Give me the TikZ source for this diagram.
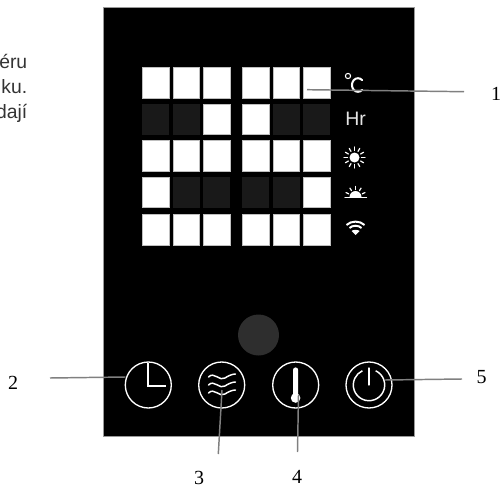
\documentclass[tikz,border=0pt]{standalone}
\usepackage{fontspec}
\setmainfont{Liberation Serif}
\newfontfamily\arialf{Liberation Sans}
\begin{document}
\begin{tikzpicture}[x=0.75pt,y=-0.75pt,
  on/.style={fill=white,draw=white!75!black,line width=0.5pt},
  off/.style={fill=black!90,draw=none},
  ring/.style={draw=white,line width=1pt,circle,minimum size=34.5pt,inner sep=0pt},
  glyph/.style={draw=white,line width=1pt,line cap=round},
  leader/.style={draw=black!50,line width=1.1pt},
  num/.style={font=\fontsize{15pt}{17pt}\selectfont,text=black,inner sep=0pt},
  side/.style={font=\arialf\fontsize{14.5pt}{17pt}\selectfont,text=black!80,inner sep=0pt,anchor=base east}]
\useasboundingbox (0,0) rectangle (500,485);
% clipped side text
\begin{scope}
\clip (0,0) rectangle (103,485);
\node[side] (t1) at (27.5,69) {éru};
\node[side] (t2) at (27.5,93.5) {ku.};
\node[side] (t3) at (27.5,118) {dají};
\end{scope}
% panel
\path[fill=black,draw=black!40,line width=0.5pt] (103,7) rectangle (414.5,436.5);
% cells
\foreach \xa/\xb/\col in {142.3/169/1,173/199.5/2,203.3/230/3,242/269/4,273/299.5/5,303/330/6}{
  \foreach \ya/\yb/\row in {67/98/1,104/134.5/2,140.7/171/3,177/207.7/4,214/245/5}{
    \pgfmathtruncatemacro{\code}{10*\row+\col}
    \def\sty{on}
    \ifnum\code=21 \def\sty{off}\fi
    \ifnum\code=22 \def\sty{off}\fi
    \ifnum\code=25 \def\sty{off}\fi
    \ifnum\code=26 \def\sty{off}\fi
    \ifnum\code=42 \def\sty{off}\fi
    \ifnum\code=43 \def\sty{off}\fi
    \ifnum\code=44 \def\sty{off}\fi
    \ifnum\code=45 \def\sty{off}\fi
    \path[\sty] (\xa,\ya) rectangle (\xb,\yb);
  }
}
% status icons
\draw[white,line width=0.8pt] (348,76) circle (2.6);
\draw[glyph,line width=1.5pt] (362.2,80.2) arc (-45:-315:6 and 6.8);
\node[inner sep=0pt,text=white!90!black,font=\arialf\fontsize{14.6pt}{15pt}\selectfont] (hr) at (355.7,119) {Hr};
% sun
\fill[white] (354.5,157.5) circle (5);
\foreach \a in {0,30,...,330}{\draw[glyph,line width=0.9pt] (354.5,157.5) ++(\a:7) -- ++(\a:3.5);}
% sunrise
\fill[white] (349.5,197) arc (-180:0:6) -- cycle;
\draw[glyph,line width=0.9pt] (345,197.5) -- (366.5,197.5);
\foreach \a in {25,58,90,122,155}{\draw[glyph,line width=0.9pt] (355.5,197) ++(-\a:7.5) -- ++(-\a:3);}
% wifi
\fill[white] (355.5,235) -- (351.5,231) .. controls (353,229.5) and (358,229.5) .. (359.5,231) -- cycle;
\draw[white,line width=1.5pt] (349.5,228) .. controls (352.5,225) and (358.5,225) .. (361.5,228);
\draw[white,line width=1.5pt] (346.5,225) .. controls (351,220.5) and (360,220.5) .. (364.5,225);
% dark circle
\fill[black!82] (258.5,335) circle (20.5);
% buttons
\node[ring] (clock) at (148.3,385) {};
\node[ring] (waves) at (221.7,385) {};
\node[ring] (thermo) at (295.7,385) {};
\node[ring] (power) at (369,385) {};
% clock hands
\draw[glyph,line width=1.5pt,line cap=butt] (148.3,362.5) -- (148.3,386) -- (166,386);
% waves
\foreach \dy in {-8,0,8}{
  \draw[glyph,line width=1.1pt] (208.5,385+\dy) .. controls (214,385+\dy-6) and (220,385+\dy+5) .. (225,385+\dy+1) .. controls (228,385+\dy-1) and (232,385+\dy-3) .. (235.5,385+\dy-3);
}
% thermometer
\fill[white] (293,370) arc (-180:0:2.6) -- (298.2,396) -- (293,396) -- cycle;
\fill[white] (295.6,398) circle (4.8);
% power
\draw[glyph,line width=1pt] (369,368) -- (369,385);
\draw[white,line width=1.1pt] (369,385) ++(-65:15.7) arc (-65:245:15.7);
% leaders
\coordinate (l1a) at (307,89.7);
\coordinate (l1b) at (464,91.7);
\draw[leader] (l1a) -- (l1b);
\node[num] (n1) at (496,94) {1};
\coordinate (l2a) at (50,378);
\coordinate (l2b) at (125.5,377);
\draw[leader] (l2a) -- (l2b);
\node[num] (n2) at (13,382.5) {2};
\coordinate (l3a) at (218.3,454);
\coordinate (l3b) at (222,390);
\draw[leader] (l3a) -- (l3b);
\node[num] (n3) at (199,477.5) {3};
\coordinate (l4a) at (297.5,452);
\coordinate (l4b) at (298.5,395);
\draw[leader] (l4a) -- (l4b);
\node[num] (n4) at (297,477) {4};
\coordinate (l5a) at (385,380);
\coordinate (l5b) at (462,379);
\draw[leader] (l5a) -- (l5b);
\node[num] (n5) at (481.5,377.5) {5};
\end{tikzpicture}
\end{document}
